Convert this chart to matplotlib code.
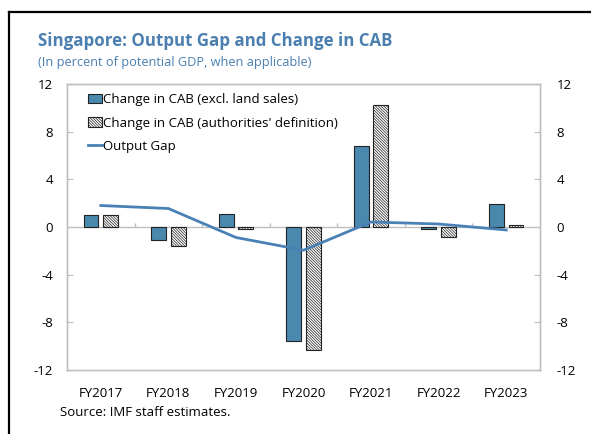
"""
Singapore: Output Gap and Change in CAB
"""

import numpy as np
import matplotlib
matplotlib.use('Agg')
import matplotlib.pyplot as plt
from matplotlib.lines import Line2D

plt.rcParams['font.family'] = ['Open Sans', 'DejaVu Sans']
plt.rcParams['axes.unicode_minus'] = False
plt.rcParams['hatch.linewidth'] = 0.5
plt.rcParams['hatch.color'] = '#444444'

# data
years = ['FY2017', 'FY2018', 'FY2019', 'FY2020', 'FY2021', 'FY2022', 'FY2023']
cab_excl_land = [1.0, -1.1, 1.05, -9.55, 6.8, -0.2, 1.95]
cab_authorities = [1.0, -1.6, -0.2, -10.35, 10.25, -0.85, 0.15]
output_gap = [1.8, 1.55, -0.88, -1.95, 0.42, 0.25, -0.25]
yticks = [-12, -8, -4, 0, 4, 8, 12]

blue = '#4A89AD'
line_blue = '#4A81B5'
title_blue = '#4B7FB0'
spine_gray = '#BFBFBF'

fig = plt.figure(figsize=(5.91, 4.34), dpi=100)
ax = fig.add_axes([0.1134, 0.1475, 0.8003, 0.659])

x = np.arange(len(years))
w = 0.22
off = 0.145

b1 = ax.bar(x - off, cab_excl_land, w, color=blue, edgecolor='#222222', linewidth=0.8,
            label='Change in CAB (excl. land sales)', zorder=2)
b2 = ax.bar(x + off, cab_authorities, w, color='white', edgecolor='#222222', linewidth=0.8,
            hatch='\\' * 12, label="Change in CAB (authorities' definition)", zorder=2)
ln, = ax.plot(x, output_gap, color=line_blue, linewidth=2, label='Output Gap', zorder=3)

# zero line with small category separator ticks
ax.axhline(0, color=spine_gray, linewidth=1, zorder=1)
ax.vlines(x[:-1] + 0.5, 0, 0.35, color=spine_gray, linewidth=1, zorder=1)

ax.set_xlim(-0.5, len(years) - 0.5)
ax.set_ylim(-12, 12)
ax.set_yticks(yticks)
ax.set_xticks(x)
ax.set_xticklabels(years, fontsize=9.5)
ax.tick_params(axis='x', length=0, pad=12)
ax.tick_params(axis='y', direction='in', length=4, color=spine_gray, labelsize=9.5, pad=10)
for s in ax.spines.values():
    s.set_color(spine_gray)
    s.set_linewidth(1)

ax2 = ax.twinx()
ax2.set_ylim(-12, 12)
ax2.set_yticks(yticks)
ax2.tick_params(axis='y', direction='in', length=4, color=spine_gray, labelsize=9.5, pad=12)
for s in ax2.spines.values():
    s.set_color(spine_gray)
    s.set_linewidth(1)

ax.legend(handles=[b1, b2, ln], loc='upper left', bbox_to_anchor=(0.02, 1.01), frameon=False,
          fontsize=9.5, handlelength=1.0, handleheight=0.7, handletextpad=0.1, labelspacing=0.8)

fig.text(0.064, 0.905, 'Singapore: Output Gap and Change in CAB', fontsize=12.2,
         fontweight='bold', color=title_blue, va='center')
fig.text(0.064, 0.857, '(In percent of potential GDP, when applicable)', fontsize=9.2,
         color=title_blue, va='center')
fig.text(0.101, 0.050, 'Source: IMF staff estimates.', fontsize=9.5, va='center')

# outer frame (left and top edges)
fig.add_artist(Line2D([0.0145, 0.0145], [0.0, 0.9725], transform=fig.transFigure,
                      color='black', linewidth=1.6))
fig.add_artist(Line2D([0.0145, 1.0], [0.9725, 0.9725], transform=fig.transFigure,
                      color='black', linewidth=1.6))

fig.savefig('out.png', dpi=100, facecolor='white')
